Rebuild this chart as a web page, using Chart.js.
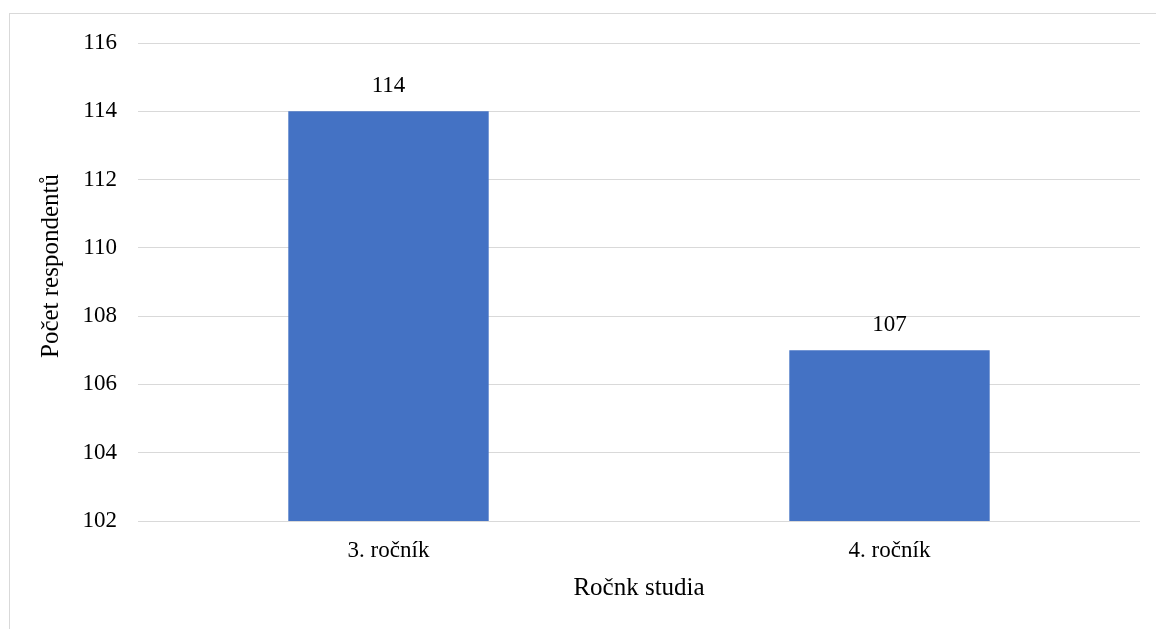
<!DOCTYPE html>
<html>
<head>
<meta charset="utf-8">
<script src="https://cdn.jsdelivr.net/npm/chart.js@4/dist/chart.umd.min.js"></script>
<style>
  html, body { margin: 0; padding: 0; background: #ffffff; }
  canvas { display: block; }
</style>
</head>
<body>
<canvas id="c" width="1156" height="629"></canvas>
<script>
// Respondents by year of study
const categories = ['3. ročník', '4. ročník'];
const respondents = [114, 107];
const yTicks = { min: 102, max: 116, step: 2 };
const xTitle = 'Ročnk studia';
const yTitle = 'Počet respondentů';

const serif = "'Liberation Serif', 'Times New Roman', serif";
const gridColor = '#d9d9d9';

// Light frame around the chart
const framePlugin = {
  id: 'frame',
  beforeDraw(chart) {
    const ctx = chart.ctx;
    ctx.save();
    ctx.strokeStyle = gridColor;
    ctx.lineWidth = 1;
    ctx.strokeRect(9.5, 13.5, 3000, 3000);
    ctx.restore();
  }
};

// Value labels above each bar
const valueLabels = {
  id: 'valueLabels',
  afterDatasetsDraw(chart) {
    const ctx = chart.ctx;
    const meta = chart.getDatasetMeta(0);
    const data = chart.data.datasets[0].data;
    ctx.save();
    ctx.fillStyle = '#000000';
    ctx.font = "23px " + serif;
    ctx.textAlign = 'center';
    ctx.textBaseline = 'middle';
    meta.data.forEach((bar, i) => {
      ctx.fillText(String(data[i]), bar.x, bar.y - 25);
    });
    ctx.restore();
  }
};

// Vertical axis title, set slightly above the plot's middle
const yTitlePlugin = {
  id: 'yTitle',
  afterDraw(chart) {
    const ctx = chart.ctx;
    const area = chart.chartArea;
    ctx.save();
    ctx.fillStyle = '#000000';
    ctx.font = "25px " + serif;
    ctx.textAlign = 'center';
    ctx.textBaseline = 'middle';
    ctx.translate(51, (area.top + area.bottom) / 2 - 16);
    ctx.rotate(-Math.PI / 2);
    ctx.fillText(yTitle, 0, 0);
    ctx.restore();
  }
};

new Chart(document.getElementById('c'), {
  type: 'bar',
  data: {
    labels: categories,
    datasets: [{
      data: respondents,
      backgroundColor: '#4472C4',
      borderWidth: 0,
      barPercentage: 0.4,
      categoryPercentage: 1.0
    }]
  },
  options: {
    responsive: false,
    animation: false,
    layout: { padding: { left: 36, right: 16, top: 43, bottom: 26 } },
    plugins: {
      legend: { display: false },
      tooltip: { enabled: false }
    },
    scales: {
      x: {
        grid: { display: false, drawTicks: false },
        border: { display: false },
        ticks: { color: '#000000', font: { family: serif, size: 23 }, padding: 16 },
        title: { display: true, text: xTitle, color: '#000000', font: { family: serif, size: 25 }, padding: 0 },
        afterFit(scale) { scale.height = 629 - 26 - 521; }
      },
      y: {
        min: yTicks.min,
        max: yTicks.max,
        grid: { color: gridColor, lineWidth: 1, drawTicks: false },
        border: { display: false },
        ticks: { stepSize: yTicks.step, color: '#000000', font: { family: serif, size: 23 }, padding: 21 },
        title: { display: false },
        afterFit(scale) { scale.width = 138 - 36; }
      }
    }
  },
  plugins: [framePlugin, valueLabels, yTitlePlugin]
});
</script>
</body>
</html>
